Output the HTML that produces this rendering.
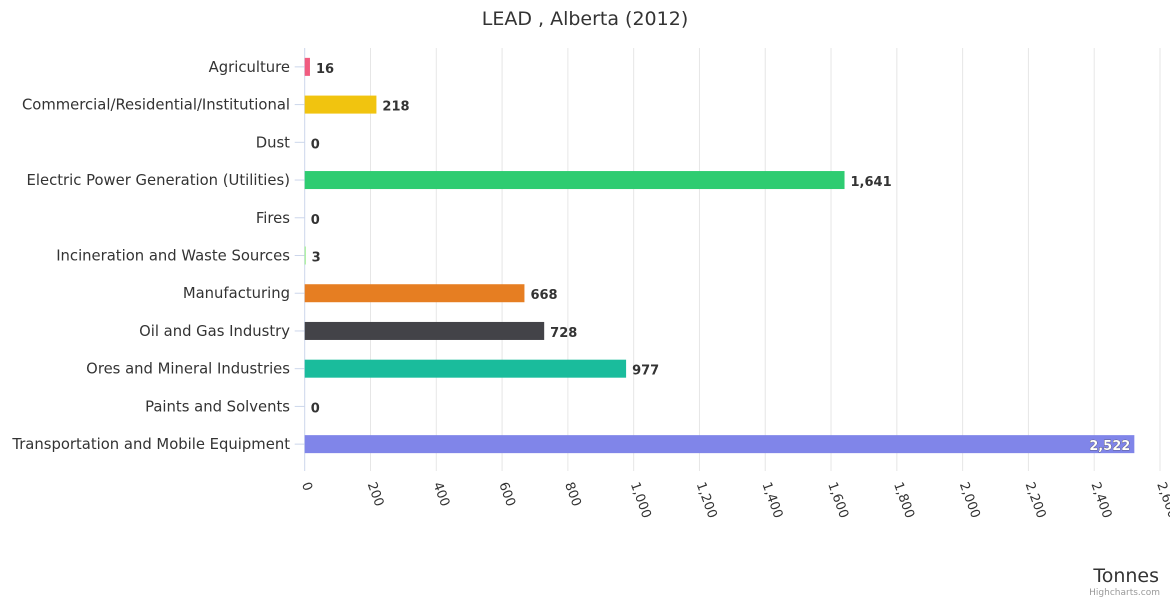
<!DOCTYPE html>
<html><head><meta charset="utf-8"><style>
body{margin:0;background:#fff;font-family:"DejaVu Sans","Liberation Sans",sans-serif}
svg{display:block;font-family:"DejaVu Sans","Liberation Sans",sans-serif}
</style></head><body>
<svg id="c" width="1170" height="600" xmlns="http://www.w3.org/2000/svg">
<text x="585" y="25" text-anchor="middle" font-size="19" fill="#333">LEAD , Alberta (2012)</text>
<g id="grid"></g>
<g id="bars"></g>
<g id="labels"></g>
<text x="1159" y="582" text-anchor="end" font-size="19" fill="#333">Tonnes</text>
<text x="1160" y="595" text-anchor="end" font-size="9" fill="#999">Highcharts.com</text>
</svg>
<script>
const categories=["Agriculture","Commercial/Residential/Institutional","Dust","Electric Power Generation (Utilities)","Fires","Incineration and Waste Sources","Manufacturing","Oil and Gas Industry","Ores and Mineral Industries","Paints and Solvents","Transportation and Mobile Equipment"];
const values=[16,218,0,1641,0,3,668,728,977,0,2522];
const colors=["#f15c80","#f1c40f","#e4d354","#2ecc71","#f7a35c","#90ed7d","#e67e22","#434348","#1abc9c","#7cb5ec","#8085e9"];
const ticks=[0,200,400,600,800,1000,1200,1400,1600,1800,2000,2200,2400,2600];
const NS="http://www.w3.org/2000/svg";
const plotX0=304.7,plotX1=1160,plotTop=48,plotBot=463;
const xs=v=>plotX0+(v/2600)*(plotX1-plotX0);
const band=(plotBot-plotTop)/categories.length;
const yc=i=>plotTop+band*(i+0.5);
function mk(t,a,p){const e=document.createElementNS(NS,t);for(const k in a)e.setAttribute(k,a[k]);p.appendChild(e);return e;}
const grid=document.getElementById('grid'),bars=document.getElementById('bars'),labels=document.getElementById('labels');
ticks.forEach(t=>{
 const l=mk('line',{x1:xs(t),x2:xs(t),y1:plotTop,y2:plotBot+8,stroke:t===0?'#ccd6eb':'#e6e6e6','stroke-width':1},grid);
 
 
 const tx=mk('text',{x:xs(t)-3,y:484,'font-size':13,fill:'#333',transform:`rotate(70 ${xs(t)-3} 484)`},labels);
 tx.textContent=t.toLocaleString('en-US');
 
 
});
categories.forEach((c,i)=>{
 const y=yc(i);
 const tk=mk('line',{x1:plotX0-10,x2:plotX0,y1:y,y2:y,stroke:'#ccd6eb'},grid);
 
 
 const t=mk('text',{x:290,y:y+5,'text-anchor':'end','font-size':14.8,fill:'#333'},labels);
 t.textContent=c;
 
 
 const w=xs(values[i])-plotX0;
 const r=mk('rect',{x:plotX0,y:y-9,width:Math.max(w,0),height:18,fill:colors[i]},bars);
 
 
 const inside=w>700;
 const v=mk('text',{x:inside?xs(values[i])-4:xs(values[i])+6,y:y+6,'text-anchor':inside?'end':'start','font-size':13,'font-weight':'bold',fill:inside?'#fff':'#333',stroke:inside?'#333':'none','stroke-width':inside?0.6:0,'paint-order':'stroke'},labels);
 v.textContent=values[i].toLocaleString('en-US');
 
 
});
</script>
</body></html>
